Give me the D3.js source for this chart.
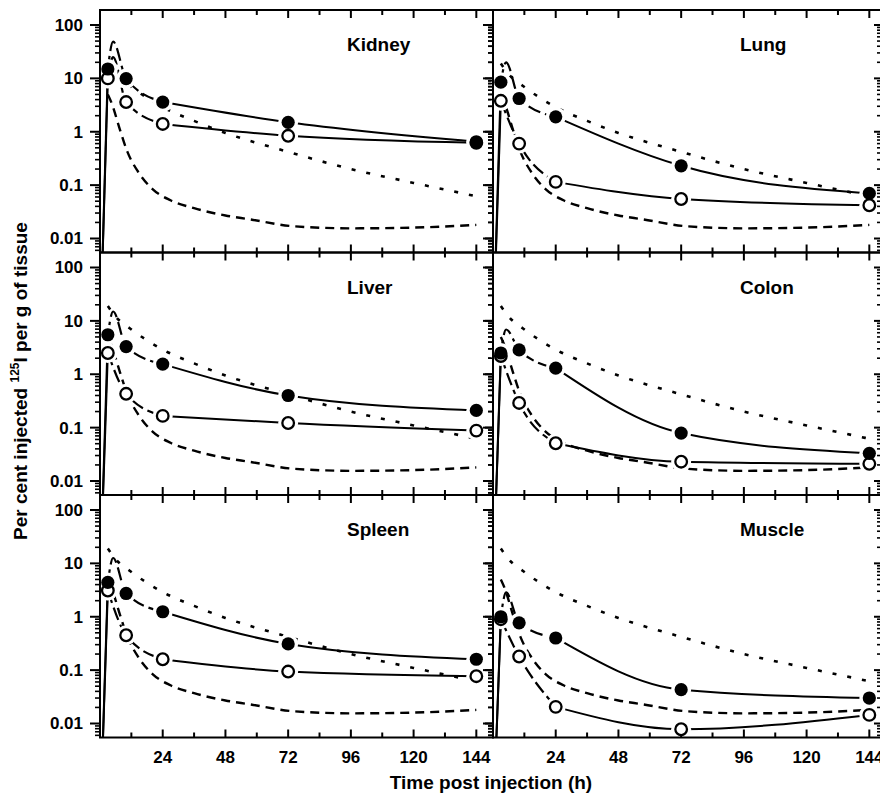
<!DOCTYPE html>
<html>
<head>
<meta charset="utf-8">
<script src="https://cdn.jsdelivr.net/npm/d3@7"></script>
<style>
  body { margin: 0; background: #fff; }
  text { font-family: "Liberation Sans", Arial, sans-serif; font-weight: bold; fill: #000; }
</style>
</head>
<body>
<script>
"use strict";

let w = 880;
let h = 794;

// sampling times (h) of the measured points
const times = [3, 10, 24, 72, 144];
const peakTime = 5;

// measured tissue values, filled and open symbols
const kidneyFilled = [15, 9.9, 3.6, 1.5, 0.65];
const kidneyOpen   = [10, 3.6, 1.4, 0.84, 0.62];
const lungFilled   = [8.5, 4.2, 1.9, 0.23, 0.07];
const lungOpen     = [3.8, 0.6, 0.115, 0.055, 0.042];
const liverFilled  = [5.5, 3.3, 1.55, 0.40, 0.21];
const liverOpen    = [2.5, 0.43, 0.166, 0.122, 0.088];
const colonFilled  = [2.5, 2.86, 1.3, 0.079, 0.033];
const colonOpen    = [2.2, 0.29, 0.051, 0.023, 0.021];
const spleenFilled = [4.4, 2.73, 1.24, 0.31, 0.16];
const spleenOpen   = [3.1, 0.45, 0.16, 0.094, 0.077];
const muscleFilled = [1.0, 0.77, 0.4, 0.043, 0.030];
const muscleOpen   = [0.9, 0.18, 0.0205, 0.0078, 0.0145];

// early peaks of the fitted curves (null = none visible)
const filledPeaks = [49, 20, 15, 6.9, 12.6, 2.85];
const openPeaks   = [25, null, null, null, null, null];

// reference curves drawn in every panel
const dottedTimes  = [3, 6, 12, 24, 36, 48, 72, 96, 120, 144];
const dottedValues = [19, 12, 6.9, 2.9, 1.6, 0.95, 0.42, 0.2, 0.11, 0.062];
const dashedTimes  = [3, 4.5, 7.5, 10.5, 14.5, 20, 27, 36, 48, 57, 74, 96, 120, 144];
const dashedValues = [5, 3.4, 1.15, 0.42, 0.18, 0.085, 0.052, 0.037, 0.027, 0.023, 0.017, 0.0155, 0.016, 0.018];

const panelNames = ["Kidney", "Lung", "Liver", "Colon", "Spleen", "Muscle"];
const filledSets = [kidneyFilled, lungFilled, liverFilled, colonFilled, spleenFilled, muscleFilled];
const openSets   = [kidneyOpen, lungOpen, liverOpen, colonOpen, spleenOpen, muscleOpen];

const xTickLabels = [24, 48, 72, 96, 120, 144];
const yTickLabels = [0.01, 0.1, 1, 10, 100];

// layout
const cols = [[100, 493], [493, 882]];
const rowTop = [10, 252.5, 495];
const panelH = 242.5;

let svg = d3.select("body")
    .append("svg")
    .attr("width", w)
    .attr("height", h);

// minor log ticks 2..9 per decade
let yMinor = [];
[0.001, 0.01, 0.1, 1, 10, 100].forEach(dec => {
    for (let k = 2; k <= 9; k++) yMinor.push(dec * k);
});

panelNames.forEach((name, i) => {
    let col = i % 2, row = Math.floor(i / 2);
    let x0 = cols[col][0], x1 = cols[col][1];
    let top = rowTop[row], bottom = top + panelH;

    let x = d3.scaleLinear().domain([0, 150]).range([x0, x0 + 392]);
    let y = d3.scaleLog().domain([0.01, 100]).range([bottom - 14, top + 15]);

    let g = svg.append("g");
    let clipId = "clip" + i;
    g.append("clipPath").attr("id", clipId)
        .append("rect")
        .attr("x", x0).attr("y", top)
        .attr("width", x1 - x0).attr("height", panelH);

    let lines = g.append("g").attr("clip-path", `url(#${clipId})`);
    let smooth = d3.line().x(d => x(d[0])).y(d => y(d[1])).curve(d3.curveMonotoneX);
    let straight = d3.line().x(d => x(d[0])).y(d => y(d[1]));

    lines.append("path")
        .datum(d3.zip(dottedTimes, dottedValues))
        .attr("d", smooth)
        .attr("fill", "none").attr("stroke", "#000")
        .attr("stroke-width", 2.6).attr("stroke-dasharray", "4,11");

    lines.append("path")
        .datum(d3.zip(dashedTimes, dashedValues))
        .attr("d", smooth)
        .attr("fill", "none").attr("stroke", "#000")
        .attr("stroke-width", 2.4).attr("stroke-dasharray", "9,6");

    let series = [
        {vals: filledSets[i], peak: filledPeaks[i]},
        {vals: openSets[i], peak: openPeaks[i]}
    ];
    series.forEach(s => {
        let v = s.vals;
        // rise from the injection time
        lines.append("path")
            .datum([[0, 1e-4], [times[0], v[0]]])
            .attr("d", straight)
            .attr("fill", "none").attr("stroke", "#000").attr("stroke-width", 2);
        // early part of the fit, long dashes
        let early = [[times[0], v[0]]];
        if (s.peak) early.push([peakTime, s.peak]);
        early.push([times[1], v[1]], [times[2], v[2]]);
        lines.append("path")
            .datum(early)
            .attr("d", smooth)
            .attr("fill", "none").attr("stroke", "#000")
            .attr("stroke-width", 2.2).attr("stroke-dasharray", "13,5");
        // late part, solid
        lines.append("path")
            .datum([[times[2], v[2]], [times[3], v[3]], [times[4], v[4]]])
            .attr("d", smooth)
            .attr("fill", "none").attr("stroke", "#000").attr("stroke-width", 2);
    });

    // white halos so the lines stop short of the symbols
    let pts = [];
    openSets[i].forEach((v, j) => pts.push({t: times[j], v: v, open: true}));
    filledSets[i].forEach((v, j) => pts.push({t: times[j], v: v, open: false}));

    g.append("g").selectAll("circle")
        .data(pts).enter().append("circle")
        .attr("cx", d => x(d.t)).attr("cy", d => y(d.v))
        .attr("r", 10).attr("fill", "#fff");

    // frame
    g.append("rect")
        .attr("x", x0).attr("y", top)
        .attr("width", x1 - x0).attr("height", panelH)
        .attr("fill", "none").attr("stroke", "#000").attr("stroke-width", 2);

    let ticks = g.append("g").attr("stroke", "#000").attr("stroke-width", 2);
    // time ticks, inward on top and bottom
    d3.range(12, 150, 12).forEach(t => {
        let len = t % 24 === 0 ? 8 : 5;
        let xx = x(t);
        if (xx > x1 - 2) return;
        ticks.append("line").attr("x1", xx).attr("x2", xx).attr("y1", top).attr("y2", top + len);
        ticks.append("line").attr("x1", xx).attr("x2", xx).attr("y1", bottom).attr("y2", bottom - len);
    });
    // log ticks, outward on left, inward on right
    let yTicks = yTickLabels.map(v => ({v: v, major: true}))
        .concat(yMinor.map(v => ({v: v, major: false})))
        .filter(d => y(d.v) > top + 1 && y(d.v) < bottom - 1);
    yTicks.forEach(d => {
        let yy = y(d.v);
        let len = d.major ? 10 : 5;
        ticks.append("line").attr("x1", x0).attr("x2", x0 - len).attr("y1", yy).attr("y2", yy)
            .attr("stroke-width", d.major ? 2 : 1.6);
        ticks.append("line").attr("x1", x1).attr("x2", x1 - (d.major ? 8 : 5)).attr("y1", yy).attr("y2", yy)
            .attr("stroke-width", d.major ? 2 : 1.6);
    });

    // symbols
    g.append("g").selectAll("circle")
        .data(pts).enter().append("circle")
        .attr("cx", d => x(d.t)).attr("cy", d => y(d.v))
        .attr("r", d => d.open ? 5.8 : 6.6)
        .attr("fill", d => d.open ? "#fff" : "#000")
        .attr("stroke", "#000")
        .attr("stroke-width", d => d.open ? 2.3 : 0);

    g.append("text")
        .attr("x", x0 + 247).attr("y", top + 41)
        .attr("font-size", 19)
        .text(name);

    if (col === 0) {
        g.selectAll(".ylab").data(yTickLabels).enter().append("text")
            .attr("x", x0 - 17).attr("y", d => y(d))
            .attr("dy", "0.35em")
            .attr("text-anchor", "end")
            .attr("font-size", 17)
            .text(d => d);
    }
    if (row === 2) {
        g.selectAll(".xlab").data(xTickLabels).enter().append("text")
            .attr("x", d => x(d)).attr("y", bottom + 25)
            .attr("text-anchor", "middle")
            .attr("font-size", 17)
            .text(d => d);
    }
});

svg.append("text")
    .attr("x", 491).attr("y", 789)
    .attr("text-anchor", "middle")
    .attr("font-size", 19)
    .text("Time post injection (h)");

let ytitle = svg.append("text")
    .attr("transform", "translate(27,381) rotate(-90)")
    .attr("text-anchor", "middle")
    .attr("font-size", 19);
ytitle.append("tspan").text("Per cent injected ");
ytitle.append("tspan").attr("font-size", 12).attr("dy", -8).text("125");
ytitle.append("tspan").attr("dy", 8).text("I per g of tissue");
</script>
</body>
</html>
